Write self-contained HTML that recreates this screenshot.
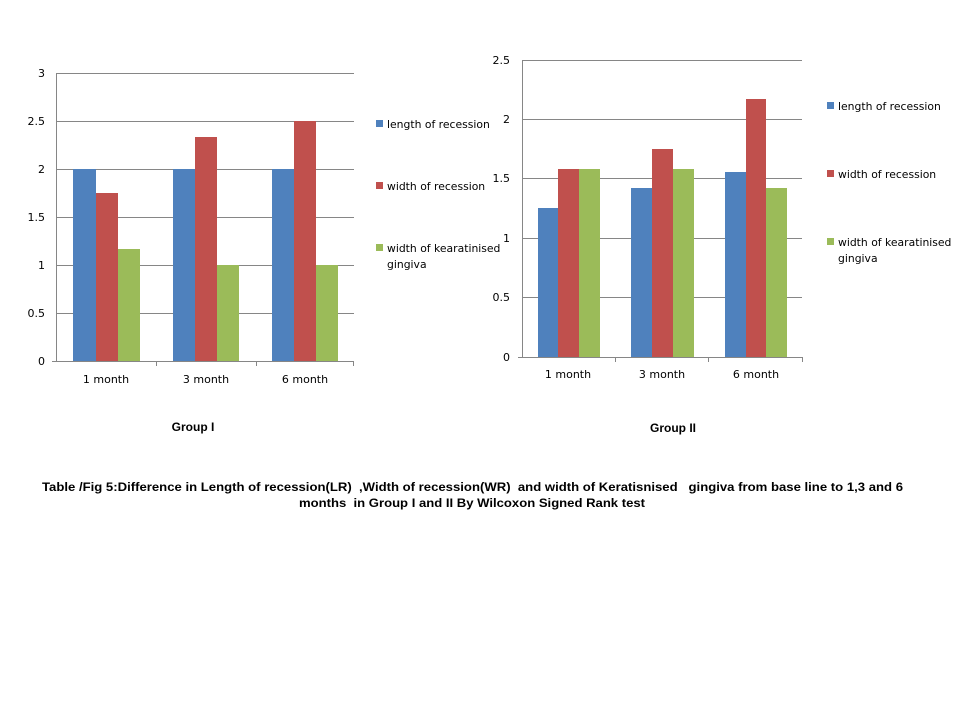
<!DOCTYPE html>
<html><head><meta charset="utf-8"><style>body{margin:0;background:#fff}svg{display:block}text{font-family:"DejaVu Sans","Liberation Sans",sans-serif}text.b{font-family:"Liberation Sans",Arial,sans-serif;font-weight:bold;font-size:12px;white-space:pre}</style></head><body>
<svg width="960" height="720" xmlns="http://www.w3.org/2000/svg">
<g font-size="11" fill="#000">
<!-- Left chart -->
<g stroke="#868686" stroke-width="1">
<line x1="56" y1="73.5" x2="354" y2="73.5"/><line x1="56" y1="121.5" x2="354" y2="121.5"/><line x1="56" y1="169.5" x2="354" y2="169.5"/><line x1="56" y1="217.5" x2="354" y2="217.5"/><line x1="56" y1="265.5" x2="354" y2="265.5"/><line x1="56" y1="313.5" x2="354" y2="313.5"/>
<line x1="56.5" y1="73" x2="56.5" y2="361"/><line x1="52" y1="361.5" x2="354" y2="361.5"/>
<line x1="156.5" y1="361" x2="156.5" y2="366"/><line x1="256.5" y1="361" x2="256.5" y2="366"/><line x1="353.5" y1="361" x2="353.5" y2="366"/>
</g>
<g>
<rect x="73" y="169" width="23" height="192" fill="#4f81bd"/><rect x="96" y="193" width="22" height="168" fill="#c0504d"/><rect x="118" y="249" width="22" height="112" fill="#9bbb59"/>
<rect x="173" y="169" width="22" height="192" fill="#4f81bd"/><rect x="195" y="137" width="22" height="224" fill="#c0504d"/><rect x="217" y="265" width="22" height="96" fill="#9bbb59"/>
<rect x="272" y="169" width="22" height="192" fill="#4f81bd"/><rect x="294" y="121" width="22" height="240" fill="#c0504d"/><rect x="316" y="265" width="22" height="96" fill="#9bbb59"/>
</g>
<g text-anchor="end"><text x="45" y="77">3</text><text x="45" y="125">2.5</text><text x="45" y="173">2</text><text x="45" y="221">1.5</text><text x="45" y="269">1</text><text x="45" y="317">0.5</text><text x="45" y="365">0</text></g>
<g text-anchor="middle"><text x="106" y="383">1 month</text><text x="206" y="383">3 month</text><text x="305" y="383">6 month</text></g>
<g font-size="10.8">
<rect x="376" y="120" width="7" height="7" fill="#4f81bd"/><text x="387" y="128">length of recession</text>
<rect x="376" y="182" width="7" height="7" fill="#c0504d"/><text x="387" y="190">width of recession</text>
<rect x="376" y="244" width="7" height="7" fill="#9bbb59"/><text x="387" y="252">width of kearatinised</text><text x="387" y="268">gingiva</text>
</g>
<text class="b" x="193" y="431" text-anchor="middle">Group I</text>

<!-- Right chart -->
<g stroke="#868686" stroke-width="1">
<line x1="522" y1="60.5" x2="802" y2="60.5"/><line x1="522" y1="119.5" x2="802" y2="119.5"/><line x1="522" y1="178.5" x2="802" y2="178.5"/><line x1="522" y1="238.5" x2="802" y2="238.5"/><line x1="522" y1="297.5" x2="802" y2="297.5"/>
<line x1="522.5" y1="60" x2="522.5" y2="357"/><line x1="518" y1="357.5" x2="802" y2="357.5"/>
<line x1="615.5" y1="357" x2="615.5" y2="362"/><line x1="708.5" y1="357" x2="708.5" y2="362"/><line x1="802.5" y1="357" x2="802.5" y2="362"/>
</g>
<g>
<rect x="538" y="208" width="20" height="149" fill="#4f81bd"/><rect x="558" y="169" width="21" height="188" fill="#c0504d"/><rect x="579" y="169" width="21" height="188" fill="#9bbb59"/>
<rect x="631" y="188" width="21" height="169" fill="#4f81bd"/><rect x="652" y="149" width="21" height="208" fill="#c0504d"/><rect x="673" y="169" width="21" height="188" fill="#9bbb59"/>
<rect x="725" y="172" width="21" height="185" fill="#4f81bd"/><rect x="746" y="99" width="20" height="258" fill="#c0504d"/><rect x="766" y="188" width="21" height="169" fill="#9bbb59"/>
</g>
<g text-anchor="end"><text x="510" y="64">2.5</text><text x="510" y="123">2</text><text x="510" y="182">1.5</text><text x="510" y="242">1</text><text x="510" y="301">0.5</text><text x="510" y="361">0</text></g>
<g text-anchor="middle"><text x="568" y="378">1 month</text><text x="662" y="378">3 month</text><text x="756" y="378">6 month</text></g>
<g font-size="10.8">
<rect x="827" y="102" width="7" height="7" fill="#4f81bd"/><text x="838" y="110">length of recession</text>
<rect x="827" y="170" width="7" height="7" fill="#c0504d"/><text x="838" y="178">width of recession</text>
<rect x="827" y="238" width="7" height="7" fill="#9bbb59"/><text x="838" y="246">width of kearatinised</text><text x="838" y="262">gingiva</text>
</g>
<text class="b" x="673" y="432" text-anchor="middle">Group II</text>

<text class="b" x="42" y="491" textLength="861" lengthAdjust="spacingAndGlyphs">Table /Fig 5:Difference in Length of recession(LR)  ,Width of recession(WR)  and width of Keratisnised   gingiva from base line to 1,3 and 6</text>
<text class="b" x="299" y="507" textLength="346" lengthAdjust="spacingAndGlyphs">months  in Group I and II By Wilcoxon Signed Rank test</text>
</g>
</svg>
</body></html>
